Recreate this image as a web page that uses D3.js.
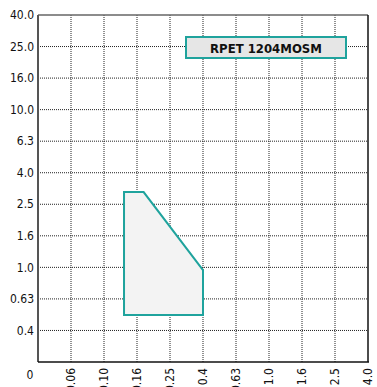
<!DOCTYPE html>
<html>
<head>
<meta charset="utf-8"/>
<style>
    body{ margin:0; background:#fff; }
    text{ font-family: "DejaVu Sans Condensed", "DejaVu Sans", sans-serif; font-stretch: condensed; fill:#111; }
    .grid line{ stroke:#222; stroke-width:1; stroke-dasharray:1,1; }
    .tick-label{ font-size:12px; }
</style>
</head>
<body>
<svg id="graph"></svg>
<script src="https://d3js.org/d3.v7.min.js"></script>
<script>
    // tick labels along both axes
    const X_TICKS = ['0', '0.06', '0.10', '0.16', '0.25', '0.4', '0.63', '1.0', '1.6', '2.5', '4.0'];
    const Y_TICKS = ['0', '0.4', '0.63', '1.0', '1.6', '2.5', '4.0', '6.3', '10.0', '16.0', '25.0', '40.0'];
    // working area outline (feed vs depth of cut)
    const AREA_X = [0.133, 0.133, 0.175, 0.4, 0.4];
    const AREA_Y = [0.5, 3.0, 3.0, 0.96, 0.5];
    const LABEL = 'RPET 1204MOSM';

    var width = 377, height = 387;
    var marginLeft = 38, marginTop = 15, plotW = 330, plotH = 347;

    var svg = d3.select('#graph').attr('width', width).attr('height', height);
    var g = svg.append('g').attr('transform', 'translate(' + marginLeft + ',' + marginTop + ')');

    // evenly spaced ticks
    var xPos = d3.scalePoint().domain(X_TICKS).range([0, plotW]);
    var yPos = d3.scalePoint().domain(Y_TICKS).range([plotH, 0]);

    // log interpolation between neighbouring ticks for the data itself
    var xNum = X_TICKS.slice(1).map(Number);
    var yNum = Y_TICKS.slice(1).map(Number);
    var xVal = d3.scaleLog().domain(xNum).range(X_TICKS.slice(1).map(function(t){ return xPos(t); }));
    var yVal = d3.scaleLog().domain(yNum).range(Y_TICKS.slice(1).map(function(t){ return yPos(t); }));

    // grid
    var grid = g.append('g').attr('class', 'grid');
    grid.selectAll('.vx').data(X_TICKS.slice(1, -1)).enter().append('line')
        .attr('x1', function(d){ return xPos(d); }).attr('x2', function(d){ return xPos(d); })
        .attr('y1', 0).attr('y2', plotH);
    grid.selectAll('.hy').data(Y_TICKS.slice(1, -1)).enter().append('line')
        .attr('y1', function(d){ return yPos(d); }).attr('y2', function(d){ return yPos(d); })
        .attr('x1', 0).attr('x2', plotW);

    // frame
    g.append('line').attr('x1', 0).attr('x2', plotW).attr('y1', 0).attr('y2', 0)
        .attr('stroke', '#666').attr('stroke-width', 1.5);
    g.append('line').attr('x1', plotW).attr('x2', plotW).attr('y1', 0).attr('y2', plotH)
        .attr('stroke', '#111').attr('stroke-width', 1.5);
    g.append('line').attr('x1', 0).attr('x2', 0).attr('y1', 0).attr('y2', plotH)
        .attr('stroke', '#555').attr('stroke-width', 2);
    g.append('line').attr('x1', 0).attr('x2', plotW + 1).attr('y1', plotH).attr('y2', plotH)
        .attr('stroke', '#111').attr('stroke-width', 1.5);

    // area polygon
    var pts = AREA_X.map(function(x, i){ return [xVal(x), yVal(AREA_Y[i])]; });
    g.append('polygon')
        .attr('points', pts.map(function(p){ return p.join(','); }).join(' '))
        .attr('fill', '#f3f3f3')
        .attr('stroke', '#1fa39d')
        .attr('stroke-width', 2);

    // y labels
    g.selectAll('.ylab').data(Y_TICKS.slice(1)).enter().append('text')
        .attr('class', 'tick-label')
        .attr('x', -4)
        .attr('y', function(d){ return yPos(d); })
        .attr('dy', '0.35em')
        .attr('text-anchor', 'end')
        .text(function(d){ return d; });
    g.append('text').attr('class', 'tick-label')
        .attr('x', -8).attr('y', plotH + 17)
        .attr('text-anchor', 'middle')
        .text('0');

    // x labels, rotated
    g.selectAll('.xlab').data(X_TICKS.slice(1)).enter().append('text')
        .attr('class', 'tick-label')
        .attr('text-anchor', 'end')
        .attr('dy', '0.35em')
        .attr('transform', function(d){ return 'translate(' + xPos(d) + ',' + (plotH + 6) + ') rotate(-90)'; })
        .text(function(d){ return d; });

    // legend box
    var lg = g.append('g').attr('transform', 'translate(' + (186 - marginLeft) + ',' + (37 - marginTop) + ')');
    lg.append('rect').attr('width', 160).attr('height', 21)
        .attr('fill', '#e6e6e6').attr('stroke', '#1fa39d').attr('stroke-width', 2);
    lg.append('text').attr('x', 80).attr('y', 11).attr('dy', '0.35em')
        .attr('text-anchor', 'middle')
        .style('font-size', '13px').style('font-weight', 'bold')
        .text(LABEL);
</script>
</body>
</html>
